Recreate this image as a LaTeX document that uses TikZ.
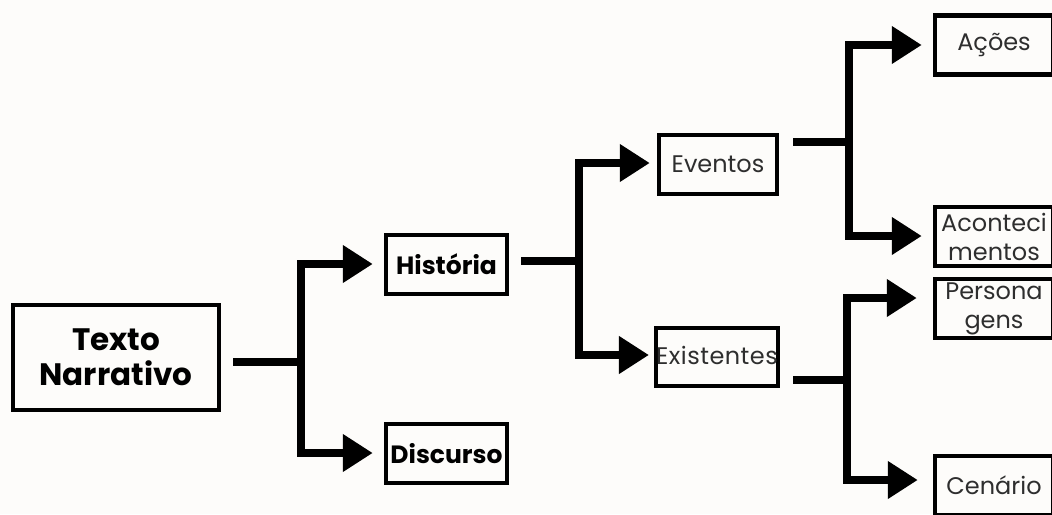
\documentclass[tikz,border=0pt]{standalone}
\usepackage{fontspec}
\setmainfont{Poppins}
\usetikzlibrary{arrows.meta}
\definecolor{bg}{HTML}{FDFCFA}
\definecolor{txt}{HTML}{2E2E2E}
\begin{document}
\begin{tikzpicture}[x=1pt,y=-1pt,
  box/.style={draw=black, line width=4.5pt, rectangle, inner sep=0pt, align=center},
  boldbox/.style={box, font=\fontsize{25}{30}\selectfont\bfseries, text=black, minimum width=121pt, minimum height=59pt},
  regbox/.style={box, font=\fontsize{24}{29}\selectfont, text=txt, minimum width=118pt, minimum height=59pt},
  ln/.style={line width=8.5pt},
  arr/.style={line width=8.5pt, -{Triangle[width=36pt,length=30pt]}},
]
\useasboundingbox (0,0) rectangle (1052,514);
\clip (0,0) rectangle (1052,514);
\fill[bg] (0,0) rectangle (1052,514);

% nodes
\node[box, font=\fontsize{31}{35}\selectfont\bfseries, minimum width=206pt, minimum height=105pt] (T) at (116,357.5) {Texto\\Narrativo};
\node[boldbox] (H) at (446.5,264.5) {História};
\node[boldbox] (D) at (446.5,453.5) {Discurso};
\node[regbox] (E) at (718,164.5) {Eventos};
\node[regbox, minimum width=120pt, minimum height=58pt] (X) at (717,357) {\raisebox{4pt}{\addfontfeatures{LetterSpace=2}Existentes}};
\node[regbox] (A) at (994,45) {Ações};
\node[regbox] (C) at (994,236.5) {Aconteci\\mentos};
\node[regbox] (P) at (994,308.5) {Persona\\gens};
\node[regbox] (S) at (994,485.5) {Cenário};

% junction coordinates
\coordinate (s1) at (233,362);  \coordinate (j1) at (301,362);
\coordinate (s2) at (521,261);  \coordinate (j2) at (579,261);
\coordinate (s3) at (793,142);  \coordinate (j3) at (849,142);
\coordinate (s4) at (793,380);  \coordinate (j4) at (847,380);

% fork 1
\draw[ln] (s1) -- (j1);
\draw[arr] (j1) |- ([xshift=-11pt]H.west |- 0,264);
\draw[arr] (j1) |- ([xshift=-11pt]D.west |- 0,453);
% fork 2
\draw[ln] (s2) -- (j2);
\draw[arr] (j2) |- ([xshift=-7pt]E.west |- 0,163);
\draw[arr] (j2) |- ([xshift=-5pt]X.west |- 0,355);
% fork 3
\draw[ln] (s3) -- (j3);
\draw[arr] (j3) |- ([xshift=-11pt]A.west |- 0,45);
\draw[arr] (j3) |- ([xshift=-11pt]C.west |- 0,236);
% fork 4
\draw[ln] (s4) -- (j4);
\draw[arr] (j4) |- ([xshift=-16pt]P.west |- 0,298);
\draw[arr] (j4) |- ([xshift=-15pt]S.west |- 0,480);
\end{tikzpicture}
\end{document}
